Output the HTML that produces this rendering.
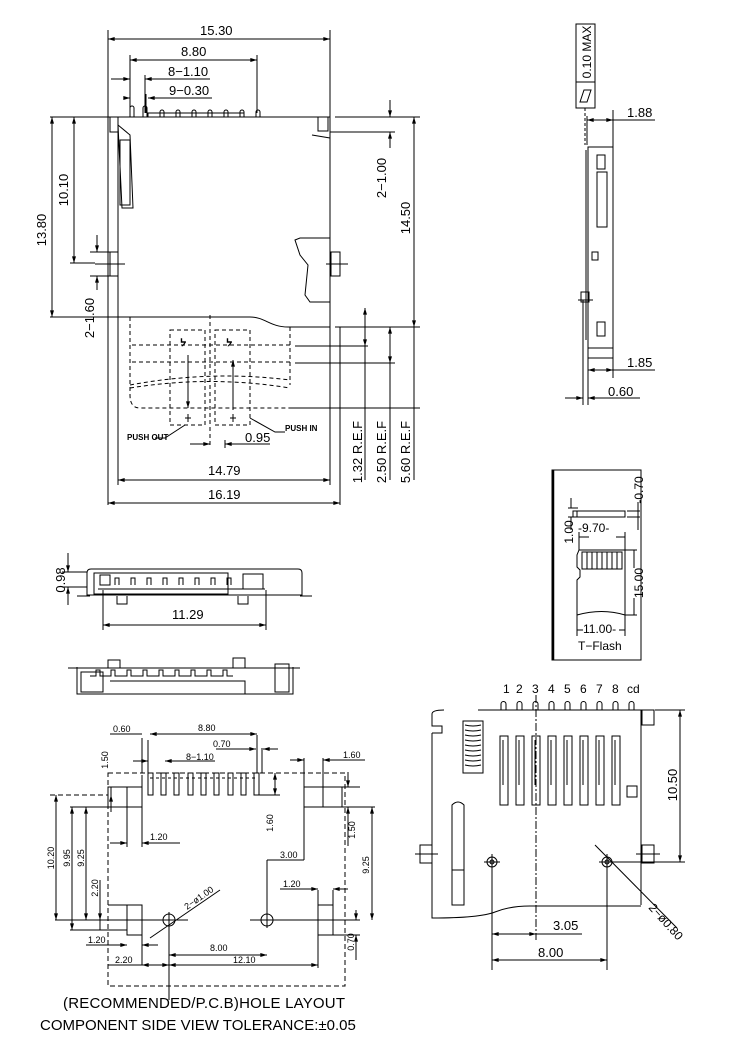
<!DOCTYPE html>
<html><head><meta charset="utf-8"><style>
html,body{margin:0;padding:0;background:#fff;}
svg{display:block;}
text{font-family:"Liberation Sans",sans-serif;fill:#000;}
</style></head><body>
<svg width="750" height="1054" viewBox="0 0 750 1054" xmlns="http://www.w3.org/2000/svg">
<defs>
<marker id="a" viewBox="0 0 10 6" refX="10" refY="3" markerWidth="8" markerHeight="4" orient="auto-start-reverse"><path d="M0,0L10,3L0,6z" fill="#000"/></marker>
</defs>
<g stroke="#000" stroke-width="1" fill="none">
<line x1="108" y1="30" x2="108" y2="505"/>
<line x1="330" y1="30" x2="330" y2="117"/>
<line x1="108" y1="39" x2="330" y2="39" marker-start="url(#a)" marker-end="url(#a)"/>
<line x1="130" y1="55" x2="130" y2="113"/>
<line x1="257" y1="55" x2="257" y2="113"/>
<line x1="130" y1="60" x2="257" y2="60" marker-start="url(#a)" marker-end="url(#a)"/>
<line x1="145" y1="75" x2="145" y2="113"/>
<line x1="111" y1="79" x2="130" y2="79" marker-end="url(#a)"/>
<line x1="145" y1="79" x2="210" y2="79" marker-start="url(#a)"/>
<line x1="125" y1="98" x2="130" y2="98" marker-end="url(#a)"/>
<line x1="148" y1="98" x2="212" y2="98" marker-start="url(#a)"/>
<line x1="146" y1="94" x2="146" y2="113"/>
<path d="M118,117 L330,117 L330,327 L288,327 C270,327 265,317 250,317 L118,317 Z"/>
<path d="M148,117 L148,113 L244,113 L244,117"/>
<path d="M130,117 v-9 a2,2 0 0 1 4,0 v9 M143,117 v-9 a2,2 0 0 1 4,0 v9"/>
<path d="M160,117 v-5 a2,2 0 0 1 4,0 v5 M176,117 v-5 a2,2 0 0 1 4,0 v5 M192,117 v-5 a2,2 0 0 1 4,0 v5 M208,117 v-5 a2,2 0 0 1 4,0 v5 M224,117 v-5 a2,2 0 0 1 4,0 v5 M240,117 v-5 a2,2 0 0 1 4,0 v5 M256,117 v-5 a2,2 0 0 1 4,0 v5"/>
<rect x="110" y="117" width="8" height="15"/>
<path d="M118,125 L130,135 L133,208 L122,208 Z"/>
<rect x="120" y="140" width="10" height="65"/>
<rect x="318" y="117" width="10" height="14"/>
<path d="M312,135 L330,138"/>
<rect x="110" y="252" width="8" height="24"/>
<rect x="331" y="252" width="9" height="24"/>
<path d="M295,240 L300,238 L330,238 L330,302 L310,302 L305,295 L308,265 L300,255 Z"/>
<line x1="95" y1="264" x2="125" y2="264"/>
<line x1="326" y1="264" x2="348" y2="264"/>
<line x1="97" y1="235" x2="97" y2="252" marker-end="url(#a)"/>
<line x1="97" y1="276" x2="97" y2="290" marker-start="url(#a)"/>
<line x1="90" y1="252" x2="110" y2="252"/><line x1="90" y1="276" x2="110" y2="276"/>
<line x1="50" y1="117" x2="118" y2="117"/>
<line x1="50" y1="317" x2="118" y2="317"/>
<line x1="52" y1="117" x2="52" y2="317" marker-start="url(#a)" marker-end="url(#a)"/>
<line x1="74" y1="117" x2="74" y2="263" marker-start="url(#a)" marker-end="url(#a)"/>
<line x1="70" y1="263" x2="95" y2="263"/>
<line x1="335" y1="117" x2="420" y2="117"/>
<line x1="330" y1="132" x2="395" y2="132"/>
<line x1="390" y1="100" x2="390" y2="117" marker-end="url(#a)"/>
<line x1="390" y1="132" x2="390" y2="148" marker-start="url(#a)"/>
<line x1="414" y1="117" x2="414" y2="327" marker-start="url(#a)" marker-end="url(#a)"/>
<line x1="335" y1="327" x2="420" y2="327"/>
<line x1="340" y1="327" x2="340" y2="505"/>
<line x1="295" y1="346" x2="368" y2="346"/>
<line x1="295" y1="363" x2="395" y2="363"/>
<line x1="290" y1="408" x2="420" y2="408"/>
<line x1="365" y1="308" x2="365" y2="346" marker-start="url(#a)" marker-end="url(#a)"/>
<line x1="365" y1="346" x2="365" y2="480"/>
<line x1="390" y1="327" x2="390" y2="363" marker-start="url(#a)" marker-end="url(#a)"/>
<line x1="390" y1="363" x2="390" y2="480"/>
<line x1="414" y1="327" x2="414" y2="480"/>
<g stroke-dasharray="4,3">
<path d="M130,317 L130,395 Q130,408 140,408 L290,408"/>
<path d="M290,327 L290,385"/>
<path d="M132,345 L290,345"/><path d="M132,362 L290,362"/>
<path d="M130,388 Q210,375 290,388"/><path d="M130,385 Q210,370 290,380"/>
<rect x="170" y="330" width="35" height="95"/>
<rect x="215" y="330" width="35" height="95"/>
<line x1="210" y1="315" x2="210" y2="448"/>
</g>
<line x1="188" y1="355" x2="188" y2="408" marker-end="url(#a)"/>
<line x1="233" y1="410" x2="233" y2="360" marker-end="url(#a)"/>
<path d="M185,418 h6 M188,414 v8 M230,418 h6 M233,414 v8"/>
<path d="M155,438 L165,438 L185,425"/>
<path d="M250,418 L275,432 L285,432"/>
<line x1="225" y1="440" x2="225" y2="448"/>
<line x1="190" y1="444" x2="210" y2="444" marker-end="url(#a)"/>
<line x1="225" y1="444" x2="270" y2="444" marker-start="url(#a)"/>
<line x1="118" y1="317" x2="118" y2="485"/>
<line x1="330" y1="327" x2="330" y2="485"/>
<line x1="118" y1="480" x2="330" y2="480" marker-start="url(#a)" marker-end="url(#a)"/>
<line x1="108" y1="503" x2="340" y2="503" marker-start="url(#a)" marker-end="url(#a)"/>
<rect x="576" y="24" width="19" height="84"/>
<line x1="576" y1="82" x2="595" y2="82"/>
<path d="M580,102 L584,90 L591,90 L587,102 Z"/>
<line x1="585" y1="108" x2="585" y2="145" stroke-dasharray="3,2"/>
<line x1="587" y1="116" x2="587" y2="145"/>
<line x1="613" y1="110" x2="613" y2="147"/>
<line x1="587" y1="120" x2="613" y2="120" marker-start="url(#a)" marker-end="url(#a)"/>
<line x1="613" y1="120" x2="655" y2="120"/>
<path d="M588,147 L613,147 L613,358 L588,358 Z"/>
<path d="M586,150 L586,340"/>
<rect x="597" y="155" width="8" height="14"/>
<rect x="597" y="172" width="10" height="55"/>
<rect x="592" y="252" width="6" height="8"/>
<rect x="581" y="292" width="8" height="10"/>
<line x1="578" y1="300" x2="593" y2="300"/>
<rect x="597" y="322" width="8" height="14"/>
<line x1="588" y1="348" x2="613" y2="348"/>
<line x1="583" y1="300" x2="583" y2="405"/>
<line x1="588" y1="358" x2="588" y2="405"/>
<line x1="613" y1="358" x2="613" y2="378"/>
<line x1="588" y1="370" x2="613" y2="370" marker-start="url(#a)" marker-end="url(#a)"/>
<line x1="613" y1="370" x2="655" y2="370"/>
<line x1="565" y1="398" x2="583" y2="398" marker-end="url(#a)"/>
<line x1="588" y1="398" x2="640" y2="398" marker-start="url(#a)"/>
<rect x="552" y="470" width="89" height="190"/>
<line x1="553" y1="470" x2="553" y2="660" stroke-width="2.5"/>
<rect x="573" y="511" width="52" height="6"/>
<line x1="577" y1="511" x2="577" y2="517"/>
<line x1="568" y1="508" x2="578" y2="508"/><line x1="568" y1="517" x2="578" y2="517"/>
<line x1="571" y1="498" x2="571" y2="508"/>
<line x1="571" y1="517" x2="571" y2="530"/>
<line x1="627" y1="511" x2="640" y2="511"/><line x1="627" y1="517" x2="640" y2="517"/>
<line x1="638" y1="502" x2="638" y2="530"/>
<path d="M579,550 L625,550 L625,615 Q602,608 577,615 L577,580 L580,577 L580,570 L577,567 L577,555 Z"/>
<rect x="582" y="552" width="40" height="17"/>
<path d="M587,552v17M592,552v17M597,552v17M602,552v17M607,552v17M612,552v17M617,552v17"/>
<line x1="579" y1="532" x2="579" y2="550"/><line x1="625" y1="532" x2="625" y2="550"/>
<line x1="579" y1="537" x2="589" y2="537"/><line x1="616" y1="537" x2="625" y2="537"/>
<line x1="625" y1="550" x2="637" y2="550"/><line x1="625" y1="615" x2="637" y2="615"/>
<line x1="634" y1="550" x2="634" y2="568"/><line x1="634" y1="598" x2="634" y2="615"/>
<line x1="577" y1="615" x2="577" y2="636"/><line x1="625" y1="615" x2="625" y2="636"/>
<line x1="577" y1="630" x2="583" y2="630"/><line x1="619" y1="630" x2="625" y2="630"/>
<path d="M87,573 Q87,569 91,569 L298,569 Q302,569 302,573 L302,595 L87,595 Z"/>
<path d="M77,596 L90,596 M300,596 L312,596"/>
<rect x="94" y="573" width="134" height="21"/>
<line x1="98" y1="589" x2="265" y2="589"/>
<rect x="100" y="575" width="10" height="10"/>
<path d="M115,585v-7h4v7M131,585v-7h4v7M147,585v-7h4v7M163,585v-7h4v7M179,585v-7h4v7M195,585v-7h4v7M211,585v-7h4v7M227,585v-7h4v7"/>
<rect x="243" y="574" width="20" height="15"/>
<path d="M117,596 v8 h10 v-8 M238,596 v8 h10 v-8"/>
<line x1="103" y1="590" x2="103" y2="630"/><line x1="266" y1="590" x2="266" y2="630"/>
<line x1="103" y1="625" x2="266" y2="625" marker-start="url(#a)" marker-end="url(#a)"/>
<line x1="62" y1="572" x2="87" y2="572"/><line x1="62" y1="587" x2="87" y2="587"/>
<line x1="68" y1="553" x2="68" y2="572" marker-end="url(#a)"/>
<line x1="68" y1="587" x2="68" y2="605" marker-start="url(#a)"/>
<path d="M68,668 L300,668"/>
<path d="M77,667 L77,694 L293,694 L293,667"/>
<rect x="81" y="672" width="22" height="20"/>
<path d="M110,681 L245,681 L245,694"/>
<rect x="108" y="660" width="12" height="8"/>
<rect x="233" y="658" width="12" height="10"/>
<rect x="275" y="664" width="14" height="28"/>
<path d="M90,676h6v-6h4v6h6M105,676h6v-6h4v6h6M121,676h6v-6h4v6h6M137,676h6v-6h4v6h6M153,676h6v-6h4v6h6M169,676h6v-6h4v6h6M185,676h6v-6h4v6h6M201,676h6v-6h4v6h6M217,676h6v-6h4v6h6"/>
<rect x="108" y="773" width="237" height="213" stroke-dasharray="5,3"/>
<line x1="50" y1="795" x2="108" y2="795" stroke-dasharray="5,3"/>
<rect x="108" y="787" width="34" height="20"/>
<line x1="127" y1="787" x2="127" y2="807"/>
<rect x="304" y="787" width="38" height="20"/>
<line x1="323" y1="787" x2="323" y2="807"/>
<path d="M148,773v22h5v-22zM161,773v22h5v-22zM174,773v22h5v-22zM188,773v22h5v-22zM201,773v22h5v-22zM214,773v22h5v-22zM228,773v22h5v-22zM241,773v22h5v-22zM254,773v22h5v-22z"/>
<line x1="150" y1="778" x2="258" y2="778" stroke-dasharray="3,3"/>
<rect x="127" y="905" width="15" height="30"/>
<rect x="318" y="905" width="15" height="30"/>
<line x1="108" y1="905" x2="127" y2="905"/>
<circle cx="169" cy="920" r="6"/><line x1="155" y1="920" x2="188" y2="920"/><line x1="169" y1="912" x2="169" y2="1000"/>
<circle cx="267" cy="920" r="6"/><line x1="250" y1="920" x2="283" y2="920"/><line x1="267" y1="880" x2="267" y2="928"/>
<line x1="55" y1="920" x2="155" y2="920"/>
<line x1="283" y1="920" x2="360" y2="920"/>
<line x1="150" y1="938" x2="220" y2="890"/>
<line x1="70" y1="807" x2="108" y2="807"/>
<line x1="56" y1="795" x2="56" y2="920" marker-start="url(#a)" marker-end="url(#a)"/>
<line x1="72" y1="807" x2="72" y2="930" marker-start="url(#a)" marker-end="url(#a)"/>
<line x1="70" y1="930" x2="127" y2="930"/>
<line x1="86" y1="807" x2="86" y2="920" marker-start="url(#a)" marker-end="url(#a)"/>
<line x1="100" y1="880" x2="100" y2="920" marker-end="url(#a)"/>
<line x1="100" y1="920" x2="100" y2="930"/>
<line x1="111" y1="800" x2="111" y2="787" />
<line x1="111" y1="795" x2="111" y2="812" marker-start="url(#a)"/>
<line x1="142" y1="775" x2="142" y2="847"/>
<line x1="127" y1="807" x2="127" y2="847"/>
<line x1="110" y1="843" x2="127" y2="843" marker-end="url(#a)"/>
<line x1="142" y1="843" x2="180" y2="843" marker-start="url(#a)"/>
<line x1="148" y1="740" x2="148" y2="773"/>
<line x1="142" y1="738" x2="142" y2="773"/>
<line x1="110" y1="734" x2="142" y2="734"/>
<line x1="257" y1="735" x2="257" y2="773"/>
<line x1="262" y1="748" x2="262" y2="773"/>
<line x1="150" y1="734" x2="257" y2="734" marker-start="url(#a)" marker-end="url(#a)"/>
<line x1="133" y1="761" x2="148" y2="761" marker-end="url(#a)"/>
<line x1="165" y1="761" x2="215" y2="761" marker-start="url(#a)"/>
<line x1="216" y1="749" x2="256" y2="749" marker-end="url(#a)"/>
<line x1="263" y1="749" x2="278" y2="749" marker-start="url(#a)"/>
<line x1="275" y1="773" x2="275" y2="795" marker-start="url(#a)" marker-end="url(#a)"/>
<line x1="259" y1="795" x2="280" y2="795"/>
<line x1="304" y1="758" x2="304" y2="787"/>
<line x1="323" y1="758" x2="323" y2="787"/>
<line x1="290" y1="760" x2="304" y2="760" marker-end="url(#a)"/>
<line x1="323" y1="760" x2="365" y2="760" marker-start="url(#a)"/>
<line x1="342" y1="787" x2="360" y2="787"/><line x1="342" y1="807" x2="375" y2="807"/>
<line x1="348" y1="772" x2="348" y2="787" marker-end="url(#a)"/>
<line x1="348" y1="807" x2="348" y2="846" marker-start="url(#a)"/>
<line x1="372" y1="807" x2="372" y2="920" marker-start="url(#a)" marker-end="url(#a)"/>
<line x1="304" y1="807" x2="304" y2="860"/>
<line x1="267" y1="860" x2="304" y2="860"/>
<line x1="267" y1="860" x2="267" y2="880"/>
<line x1="318" y1="890" x2="318" y2="905"/><line x1="333" y1="890" x2="333" y2="905"/>
<line x1="280" y1="889" x2="318" y2="889" marker-end="url(#a)"/>
<line x1="333" y1="889" x2="348" y2="889" marker-start="url(#a)"/>
<line x1="333" y1="935" x2="360" y2="935"/>
<line x1="356" y1="910" x2="356" y2="920" marker-end="url(#a)"/>
<line x1="356" y1="935" x2="356" y2="960" marker-start="url(#a)"/>
<line x1="86" y1="945" x2="127" y2="945" marker-end="url(#a)"/>
<line x1="142" y1="945" x2="158" y2="945" marker-start="url(#a)"/>
<line x1="142" y1="935" x2="142" y2="965"/>
<line x1="169" y1="955" x2="267" y2="955" marker-start="url(#a)" marker-end="url(#a)"/>
<line x1="108" y1="965" x2="142" y2="965"/>
<line x1="142" y1="965" x2="169" y2="965" marker-start="url(#a)" marker-end="url(#a)"/>
<line x1="169" y1="965" x2="318" y2="965" marker-start="url(#a)" marker-end="url(#a)"/>
<line x1="318" y1="935" x2="318" y2="968"/>
<path d="M478,710 L641,710 L641,905"/>
<path d="M432,733 L432,918 Q480,918 495,912 Q510,906 530,906 L641,906"/>
<path d="M444,710 Q432,710 432,714 L432,726 L442,726 L442,733 L432,733"/>
<rect x="642" y="710" width="12" height="15"/>
<rect x="463" y="721" width="20" height="52"/>
<path d="M465,725 q8,2 16,0 M465,730 q8,2 16,0 M465,735 q8,2 16,0 M465,740 q8,2 16,0 M465,745 q8,2 16,0 M465,750 q8,2 16,0 M465,755 q8,2 16,0 M465,760 q8,2 16,0 M465,765 q8,2 16,0"/>
<path d="M500,736h8v69h-8zM516,736h8v69h-8zM532,736h8v69h-8zM548,736h8v69h-8zM564,736h8v69h-8zM580,736h8v69h-8zM596,736h8v69h-8zM612,736h8v69h-8z"/>
<path d="M503,740v45M519,740v45M535,740v45M551,740v45M567,740v45M583,740v45M599,740v45M615,740v45"/>
<path d="M501,710v-6a2.5,2.5 0 0 1 5,0v6M517,710v-6a2.5,2.5 0 0 1 5,0v6M533,710v-6a2.5,2.5 0 0 1 5,0v6M549,710v-6a2.5,2.5 0 0 1 5,0v6M565,710v-6a2.5,2.5 0 0 1 5,0v6M581,710v-6a2.5,2.5 0 0 1 5,0v6M597,710v-6a2.5,2.5 0 0 1 5,0v6M613,710v-6a2.5,2.5 0 0 1 5,0v6M629,710v-6a2.5,2.5 0 0 1 5,0v6"/>
<line x1="536" y1="695" x2="536" y2="940" stroke-dasharray="8,2,2,2"/>
<rect x="627" y="786" width="10" height="11"/>
<path d="M452,905 L452,805 Q458,799 464,805 L464,905 Z"/>
<line x1="452" y1="870" x2="464" y2="870"/>
<rect x="420" y="845" width="12" height="18"/>
<line x1="415" y1="854" x2="438" y2="854"/>
<rect x="642" y="845" width="12" height="18"/>
<line x1="636" y1="854" x2="660" y2="854"/>
<circle cx="492" cy="862" r="5"/><circle cx="492" cy="862" r="2"/>
<line x1="484" y1="862" x2="500" y2="862"/><line x1="492" y1="854" x2="492" y2="970"/>
<circle cx="607" cy="862" r="5"/><circle cx="607" cy="862" r="2"/>
<line x1="599" y1="862" x2="615" y2="862"/><line x1="607" y1="854" x2="607" y2="970"/>
<line x1="615" y1="862" x2="685" y2="862"/>
<line x1="655" y1="710" x2="685" y2="710"/>
<line x1="680" y1="710" x2="680" y2="862" marker-start="url(#a)" marker-end="url(#a)"/>
<line x1="595" y1="845" x2="677" y2="928"/>
<line x1="492" y1="934" x2="536" y2="934" marker-start="url(#a)" marker-end="url(#a)"/>
<line x1="536" y1="934" x2="582" y2="934"/>
<line x1="492" y1="960" x2="607" y2="960" marker-start="url(#a)" marker-end="url(#a)"/>
</g>
<g font-size="13">
<text x="200" y="35">15.30</text>
<text x="181" y="56">8.80</text>
<text x="168" y="76">8−1.10</text>
<text x="169" y="95">9−0.30</text>
<text transform="translate(46,230) rotate(-90)" text-anchor="middle">13.80</text>
<text transform="translate(68,190) rotate(-90)" text-anchor="middle">10.10</text>
<text transform="translate(94,318) rotate(-90)" text-anchor="middle">2−1.60</text>
<text transform="translate(386,178) rotate(-90)" text-anchor="middle">2−1.00</text>
<text transform="translate(410,218) rotate(-90)" text-anchor="middle">14.50</text>
<text transform="translate(362,452) rotate(-90)" text-anchor="middle">1.32 R.E.F</text>
<text transform="translate(386,452) rotate(-90)" text-anchor="middle">2.50 R.E.F</text>
<text transform="translate(410,452) rotate(-90)" text-anchor="middle">5.60 R.E.F</text>
<text x="245" y="442">0.95</text>
<text x="208" y="475">14.79</text>
<text x="208" y="499">16.19</text>
<text x="627" y="117">1.88</text>
<text x="627" y="367">1.85</text>
<text x="608" y="396">0.60</text>
<text transform="translate(591,52) rotate(-90)" text-anchor="middle" font-size="12">0.10 MAX</text>
<text x="172" y="619">11.29</text>
<text transform="translate(65,580) rotate(-90)" text-anchor="middle">0.98</text>
<text x="503" y="693" font-size="12">1</text><text x="516" y="693" font-size="12">2</text><text x="532" y="693" font-size="12">3</text><text x="548" y="693" font-size="12">4</text><text x="564" y="693" font-size="12">5</text><text x="580" y="693" font-size="12">6</text><text x="596" y="693" font-size="12">7</text><text x="612" y="693" font-size="12">8</text><text x="627" y="693" font-size="12">cd</text>
<text transform="translate(677,785) rotate(-90)" text-anchor="middle">10.50</text>
<text x="553" y="930">3.05</text>
<text x="538" y="957">8.00</text>
<text transform="translate(648,908) rotate(48)" font-size="12">2−ø0.80</text>
<text x="63" y="1008" font-size="15" textLength="282" lengthAdjust="spacing">(RECOMMENDED/P.C.B)HOLE  LAYOUT</text>
<text x="40" y="1030" font-size="15">COMPONENT  SIDE  VIEW  TOLERANCE:±0.05</text>
</g>
<g font-size="12">
<text x="578" y="532">-9.70-</text>
<text x="579" y="633">-11.00-</text>
<text x="578" y="650">T−Flash</text>
<text transform="translate(573,532) rotate(-90)" text-anchor="middle">1.00</text>
<text transform="translate(643,583) rotate(-90)" text-anchor="middle">15.00</text>
<text transform="translate(643,490) rotate(-90)" text-anchor="middle">-0.70</text>
</g>
<g font-size="8" font-weight="bold">
<text x="127" y="440">PUSH OUT</text>
<text x="285" y="431">PUSH IN</text>
<text x="180" y="346" font-size="10">ᔭ</text>
<text x="226" y="346" font-size="10">ᔭ</text>
</g>
<g font-size="9">
<text x="113" y="732">0.60</text>
<text x="198" y="731">8.80</text>
<text x="213" y="747">0.70</text>
<text x="186" y="760">8−1.10</text>
<text x="343" y="758">1.60</text>
<text x="150" y="840">1.20</text>
<text x="280" y="858">3.00</text>
<text x="283" y="887">1.20</text>
<text x="88" y="943">1.20</text>
<text x="115" y="963">2.20</text>
<text x="210" y="951">8.00</text>
<text x="233" y="963">12.10</text>
<text transform="translate(108,760) rotate(-90)" text-anchor="middle">1.50</text>
<text transform="translate(273,823) rotate(-90)" text-anchor="middle">1.60</text>
<text transform="translate(355,830) rotate(-90)" text-anchor="middle">1.50</text>
<text transform="translate(369,865) rotate(-90)" text-anchor="middle">9.25</text>
<text transform="translate(54,858) rotate(-90)" text-anchor="middle">10.20</text>
<text transform="translate(70,858) rotate(-90)" text-anchor="middle">9.95</text>
<text transform="translate(84,858) rotate(-90)" text-anchor="middle">9.25</text>
<text transform="translate(98,888) rotate(-90)" text-anchor="middle">2.20</text>
<text transform="translate(354,942) rotate(-90)" text-anchor="middle">0.70</text>
<text transform="translate(187,910) rotate(-35)">2−ø1.00</text>
</g>
</svg>
</body></html>
